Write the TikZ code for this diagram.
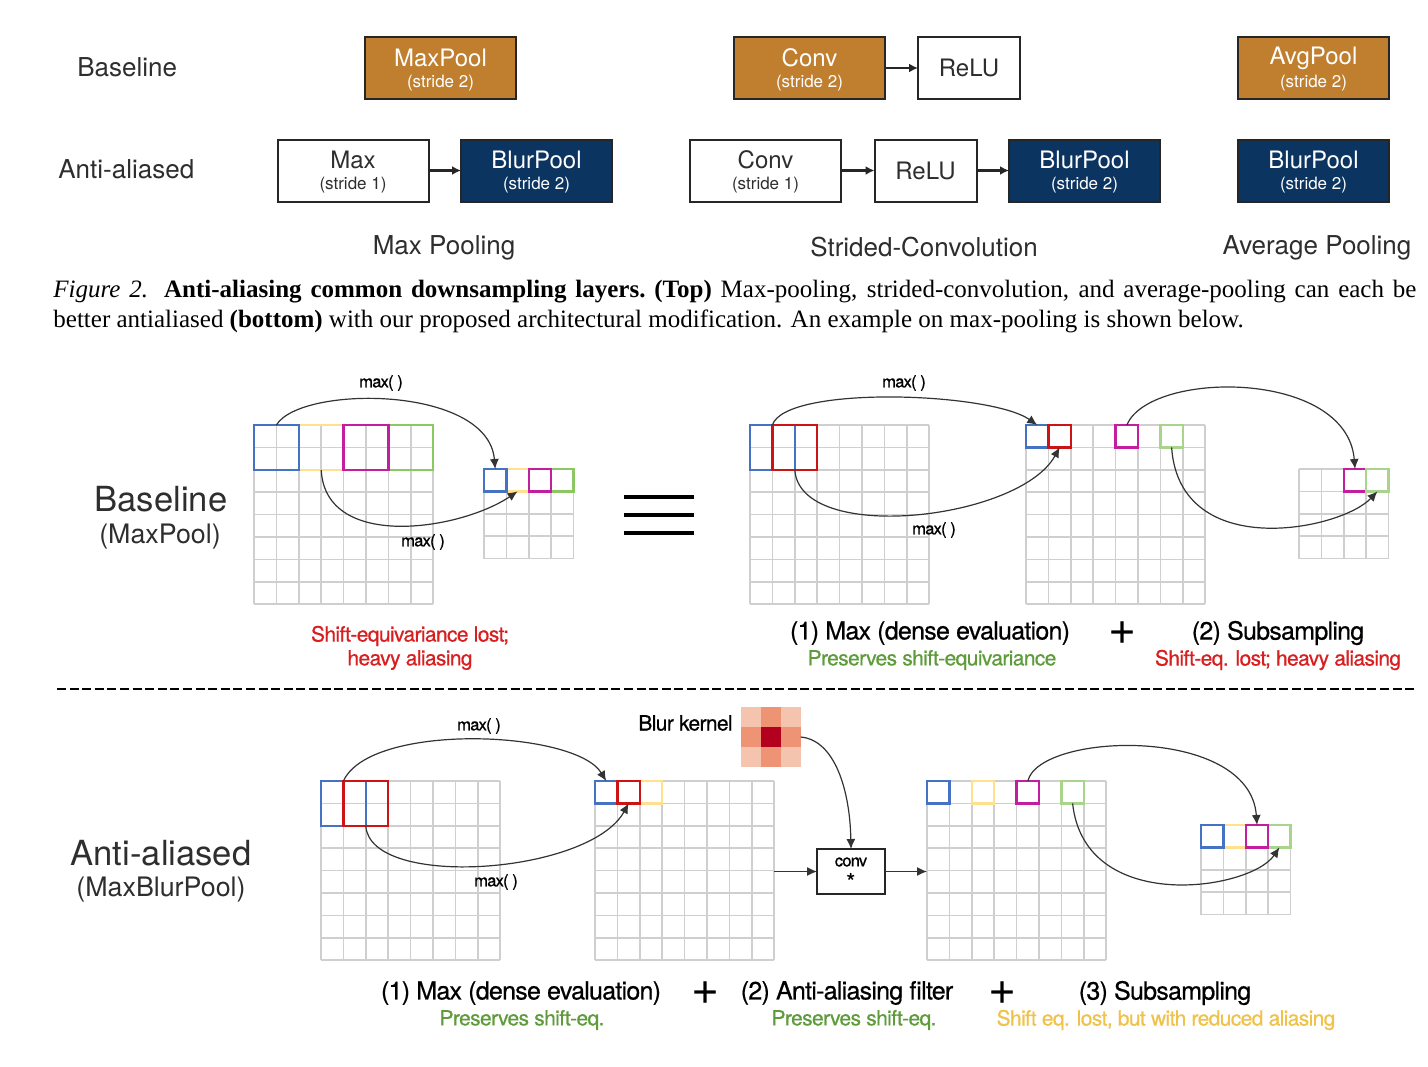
\documentclass[tikz,border=0pt]{standalone}
\usepackage{fontspec}
\setmainfont{Liberation Serif}
\newfontfamily\hv{TeX Gyre Heros}
\newfontfamily\hvt[LetterSpace=-3,FakeBold=0.6]{TeX Gyre Heros}
\newfontfamily\hvm[LetterSpace=-5,FakeBold=0.8]{TeX Gyre Heros}
\usetikzlibrary{arrows.meta}
\definecolor{corange}{HTML}{C07F2E}
\definecolor{cnavy}{HTML}{0B3461}
\definecolor{cblue}{HTML}{4672C4}
\definecolor{cyel}{HTML}{FFE08F}
\definecolor{cmag}{HTML}{C21E9F}
\definecolor{cgrn}{HTML}{8CC862}
\definecolor{cgrnl}{HTML}{A8D48C}
\definecolor{cred}{HTML}{CC1414}
\definecolor{tred}{HTML}{D91E20}
\definecolor{tgrn}{HTML}{5E9B3A}
\definecolor{tyel}{HTML}{F0C24A}
\definecolor{kc}{HTML}{F5C4AE}
\definecolor{ke}{HTML}{EF9375}
\definecolor{kk}{HTML}{B3001E}
\definecolor{gridc}{HTML}{CFCFCF}
\definecolor{tdark}{HTML}{2E2E2E}
\newcommand{\mkgrid}[4]{%
  \node[gridbox, minimum size={#4*11.2pt}, anchor=north west] (#1) at (#2,-#3) {};
  \foreach \k in {0,...,#4}{%
    \draw[gridline] ({#2+\k*22.4},{-#3}) -- ({#2+\k*22.4},{-#3-#4*22.4});
    \draw[gridline] ({#2},{-#3-\k*22.4}) -- ({#2+#4*22.4},{-#3-\k*22.4});
  }}
\newcommand{\hlc}[5]{%
  \node[hlbox, draw=#2, minimum size={#5*11.2pt}] (#1) at (#3,-#4) {};}
\begin{document}
\begin{tikzpicture}[x=0.5pt,y=0.5pt,
  box/.style={draw=black!85, line width=1pt, inner sep=0, outer sep=0, minimum height=31pt},
  obox/.style={box, fill=corange, minimum width=75.5pt},
  nbox/.style={box, fill=cnavy, minimum width=75.5pt},
  wbox/.style={box, fill=white, minimum width=75.5pt},
  rbox/.style={box, fill=white, minimum width=51pt},
  btxt/.style={inner sep=0, font=\hv\fontsize{12}{14}\selectfont},
  stxt/.style={inner sep=0, font=\hv\fontsize{8.5}{10}\selectfont},
  flow/.style={-{Latex[length=4.5pt,width=4.5pt]}, line width=1.2pt, draw=black!85},
  lbl/.style={inner sep=0, text=tdark, font=\hv\fontsize{13}{15}\selectfont},
  biglbl/.style={inner sep=0, text=tdark, font=\hv\fontsize{17.3}{20}\selectfont},
  medlbl/.style={inner sep=0, text=tdark, font=\hv\fontsize{13.4}{16}\selectfont},
  gridline/.style={draw=gridc, line width=0.8pt},
  gridbox/.style={inner sep=0, outer sep=0},
  hlbox/.style={line width=1.25pt, inner sep=0, outer sep=0, anchor=north west},
  curvearr/.style={-{Latex[length=5pt,width=4.5pt]}, line width=0.6pt, draw=black!80},
  maxl/.style={inner sep=0, font=\hvm\fontsize{8.3}{10}\selectfont},
  steplbl/.style={inner sep=0, font=\hvt\fontsize{12.5}{14}\selectfont},
  sublbl/.style={inner sep=0, font=\hvt\fontsize{10.5}{12}\selectfont},
  plus/.style={inner sep=0, font=\hv\fontsize{24}{24}\selectfont},
  capt/.style={inner sep=0, font=\fontsize{12.5}{15}\selectfont}
]
\fill[white] (0,0) rectangle (1428,-1066);
\useasboundingbox (0,0) rectangle (1428,-1066);

% ---------- top: layer boxes ----------
\node[lbl, anchor=west] (lbase) at (77,-67) {Baseline};
\node[lbl, anchor=west] (lanti) at (58,-169) {Anti-aliased};

\node[obox] (mp) at (440.5,-68) {};
\node[btxt, text=white] (mpT) at (440.5,-58) {MaxPool};
\node[stxt, text=white] (mpS) at (440.5,-83) {(stride 2)};

\node[obox] (cv) at (809.5,-68) {};
\node[btxt, text=white] (cvT) at (809.5,-58) {Conv};
\node[stxt, text=white] (cvS) at (809.5,-83) {(stride 2)};
\node[rbox] (rl) at (969,-68) {};
\node[btxt, text=tdark] (rlT) at (969,-68) {ReLU};
\draw[flow] (cv.east) -- (rl.west);

\node[obox] (ap) at (1313.5,-68) {};
\node[btxt, text=white] (apT) at (1313.5,-58) {AvgPool};
\node[stxt, text=white] (apS) at (1313.5,-83) {(stride 2)};

\node[wbox] (mx) at (353,-170.5) {};
\node[btxt, text=tdark] (mxT) at (353,-160) {Max};
\node[stxt, text=tdark] (mxS) at (353,-185) {(stride 1)};
\node[nbox] (bp1) at (536.5,-170.5) {};
\node[btxt, text=white] (bp1T) at (536.5,-160) {BlurPool};
\node[stxt, text=white] (bp1S) at (536.5,-185) {(stride 2)};
\draw[flow] (mx.east) -- (bp1.west);

\node[wbox] (cv2) at (765.5,-170.5) {};
\node[btxt, text=tdark] (cv2T) at (765.5,-160) {Conv};
\node[stxt, text=tdark] (cv2S) at (765.5,-185) {(stride 1)};
\node[rbox] (rl2) at (925.5,-170.5) {};
\node[btxt, text=tdark] (rl2T) at (925.5,-170.5) {ReLU};
\node[nbox] (bp2) at (1084.5,-170.5) {};
\node[btxt, text=white] (bp2T) at (1084.5,-160) {BlurPool};
\node[stxt, text=white] (bp2S) at (1084.5,-185) {(stride 2)};
\draw[flow] (cv2.east) -- (rl2.west);
\draw[flow] (rl2.east) -- (bp2.west);

\node[nbox] (bp3) at (1313.5,-170.5) {};
\node[btxt, text=white] (bp3T) at (1313.5,-160) {BlurPool};
\node[stxt, text=white] (bp3S) at (1313.5,-185) {(stride 2)};

\node[lbl] (lmp) at (444,-248) {Max Pooling};
\node[lbl] (lsc) at (924,-247) {Strided-Convolution};
\node[lbl] (lavg) at (1317,-248) {Average Pooling};

% ---------- caption ----------
\node[capt, anchor=base west] (cap1) at (53,-297) {\makebox[681.5pt][s]{\textit{Figure 2.} \textbf{Anti-aliasing common downsampling layers.}\ \textbf{(Top)} Max-pooling, strided-convolution, and average-pooling can each be}};
\node[capt, anchor=base west] (cap2) at (53,-327) {better antialiased \textbf{(bottom)} with our proposed architectural modification. An example on max-pooling is shown below.};

% ---------- middle: baseline ----------
\node[biglbl] (mb) at (161,-499) {Baseline};
\node[medlbl] (mbs) at (160,-537) {(MaxPool)};

\mkgrid{gA}{254}{425}{8}
\mkgrid{gB}{484}{469}{4}
\hlc{a2}{cyel}{298.8}{425}{2}
\hlc{a4}{cgrn}{388.4}{425}{2}
\hlc{a1}{cblue}{254}{425}{2}
\hlc{a3}{cmag}{343.6}{425}{2}
\hlc{b2}{cyel}{506.4}{469}{1}
\hlc{b4}{cgrn}{551.2}{469}{1}
\hlc{b1}{cblue}{484}{469}{1}
\hlc{b3}{cmag}{528.8}{469}{1}
\draw[curvearr] (a1.north) .. controls +(24,40) and +(-7,84) .. (b1.north);
\draw[curvearr] (a2.south) .. controls +(4,-81) and +(-58,-39) .. (b2.south);
\node[maxl] (m1) at (381,-383) {max( )};
\node[maxl] (m2) at (423,-542) {max( )};

\draw[line width=1.75pt] (624,-497) -- (694,-497);
\draw[line width=1.75pt] (624,-515) -- (694,-515);
\draw[line width=1.75pt] (624,-533) -- (694,-533);

\mkgrid{gC}{750}{425}{8}
\mkgrid{gD}{1026}{425}{8}
\mkgrid{gE}{1299}{469}{4}
\hlc{c1}{cblue}{750}{425}{2}
\hlc{c2}{cred}{772.4}{425}{2}
\hlc{d1}{cblue}{1026}{425}{1}
\hlc{d2}{cred}{1048.4}{425}{1}
\hlc{d3}{cmag}{1115.6}{425}{1}
\hlc{d4}{cgrnl}{1160.4}{425}{1}
\hlc{e3}{cmag}{1343.8}{469}{1}
\hlc{e4}{cgrnl}{1366.2}{469}{1}
\draw[curvearr] (c2.north west) .. controls +(13,40) and +(-47,33) .. (d1.north);
\draw[curvearr] (c2.south) .. controls +(5,-75) and +(-40,-73) .. (d2.south);
\draw[curvearr] (d3.north) .. controls +(23,55) and +(-8,100) .. (e3.north);
\draw[curvearr] (d4.south) .. controls +(8,-115) and +(-37,-39) .. (e4.south);
\node[maxl] (m3) at (904,-383) {max( )};
\node[maxl] (m4) at (934,-530) {max( )};

\node[sublbl, text=tred] (s1) at (410,-636) {Shift-equivariance lost;};
\node[sublbl, text=tred] (s2) at (410,-660) {heavy aliasing};
\node[steplbl] (s3) at (930,-633) {(1) Max (dense evaluation)};
\node[sublbl, text=tgrn] (s4) at (932,-660) {Preserves shift-equivariance};
\node[plus] (p1) at (1122,-633) {+};
\node[steplbl] (s5) at (1278,-633) {(2) Subsampling};
\node[sublbl, text=tred] (s6) at (1278,-660) {Shift-eq. lost; heavy aliasing};

\draw[line width=1pt, dash pattern=on 4.5pt off 1.8pt] (57,-689) -- (1416,-689);

% ---------- bottom: anti-aliased ----------
\node[biglbl] (ab) at (161,-853) {Anti-aliased};
\node[medlbl] (abs) at (161,-890) {(MaxBlurPool)};

\mkgrid{gF}{321}{781}{8}
\mkgrid{gG}{595}{781}{8}
\hlc{f1}{cblue}{321}{781}{2}
\hlc{f2}{cred}{343.4}{781}{2}
\hlc{g3}{cyel}{639.8}{781}{1}
\hlc{g1}{cblue}{595}{781}{1}
\hlc{g2}{cred}{617.4}{781}{1}
\draw[curvearr] (f2.north west) .. controls +(27,59) and +(-31,51) .. (g1.north);
\draw[curvearr] (f2.south) .. controls +(4,-64) and +(-39,-71) .. (g2.south);
\node[maxl] (m5) at (479,-726) {max( )};
\node[maxl] (m6) at (496,-882) {max( )};

\node[sublbl] (bk) at (685.5,-723) {Blur kernel};
\node[inner sep=0, outer sep=0, minimum size=30pt, anchor=north west] (kern) at (740.7,-707) {};
\fill[kc] (kern.north west) rectangle +(20,-20);
\fill[ke] ([shift={(20,0)}]kern.north west) rectangle +(20,-20);
\fill[kc] ([shift={(40,0)}]kern.north west) rectangle +(20,-20);
\fill[ke] ([shift={(0,-20)}]kern.north west) rectangle +(20,-20);
\fill[kk] ([shift={(20,-20)}]kern.north west) rectangle +(20,-20);
\fill[ke] ([shift={(40,-20)}]kern.north west) rectangle +(20,-20);
\fill[kc] ([shift={(0,-40)}]kern.north west) rectangle +(20,-20);
\fill[ke] ([shift={(20,-40)}]kern.north west) rectangle +(20,-20);
\fill[kc] ([shift={(40,-40)}]kern.north west) rectangle +(20,-20);

\node[draw=black!85, line width=1.3pt, minimum width=34pt, minimum height=22.5pt, inner sep=0, outer sep=0] (conv) at (851,-871.5) {};
\node[maxl] (convT) at (851,-862) {conv};
\node[inner sep=0, font=\hv\bfseries\fontsize{11}{11}\selectfont] (convS) at (851,-881) {*};
\draw[curvearr] (kern.east) .. controls +(34,-3) and +(-1,59) .. (conv.north);

\mkgrid{gH}{927}{781}{8}
\mkgrid{gI}{1201}{825}{4}
\draw[curvearr] (gG.east |- conv.west) -- (conv.west);
\draw[curvearr] (conv.east) -- (conv.east -| gH.west);
\hlc{h1}{cblue}{927}{781}{1}
\hlc{h2}{cyel}{971.8}{781}{1}
\hlc{h3}{cmag}{1016.6}{781}{1}
\hlc{h4}{cgrnl}{1061.4}{781}{1}
\hlc{i2}{cyel}{1223.4}{825}{1}
\hlc{i4}{cgrnl}{1268.2}{825}{1}
\hlc{i1}{cblue}{1201}{825}{1}
\hlc{i3}{cmag}{1245.8}{825}{1}
\draw[curvearr] (h3.north) .. controls +(12,49) and +(-7,100) .. (i3.north);
\draw[curvearr] (h4.south) .. controls +(12,-112) and +(-29,-43) .. (i4.south);

\node[steplbl] (t1) at (521,-993) {(1) Max (dense evaluation)};
\node[sublbl, text=tgrn] (t2) at (522,-1020) {Preserves shift-eq.};
\node[plus] (p2) at (706,-993) {+};
\node[steplbl] (t3) at (847,-993) {(2) Anti-aliasing filter};
\node[sublbl, text=tgrn] (t4) at (854,-1020) {Preserves shift-eq.};
\node[plus] (p3) at (1002,-993) {+};
\node[steplbl] (t5) at (1165,-993) {(3) Subsampling};
\node[sublbl, text=tyel] (t6) at (1166,-1020) {Shift eq. lost, but with reduced aliasing};
\end{tikzpicture}
\end{document}
